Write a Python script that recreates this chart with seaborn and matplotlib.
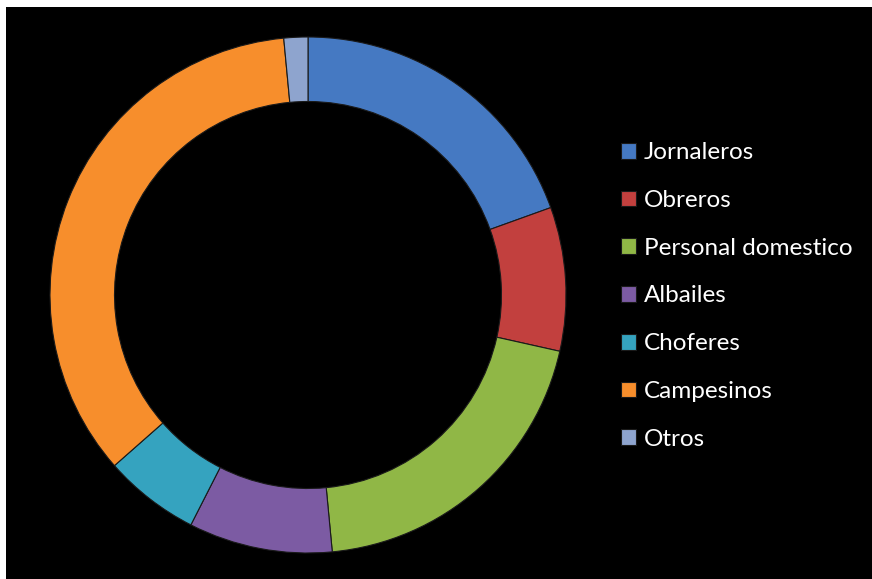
import matplotlib
matplotlib.use('Agg')
import matplotlib.pyplot as plt
import seaborn as sns

categorias = ['Jornaleros', 'Obreros', 'Personal domestico', 'Albailes',
              'Choferes', 'Campesinos', 'Otros']
valores = [19.5, 9.0, 20.0, 9.0, 6.0, 35.0, 1.5]
colores = ['#4579C2', '#C2403E', '#90B746', '#7C5BA3', '#35A3BF', '#F78E2C', '#8EA4CE']

sns.set_theme(style='white')
plt.rcParams['font.family'] = ['Lato', 'DejaVu Sans']

W, H = 872, 579
fig = plt.figure(figsize=(W / 100, H / 100), dpi=100, facecolor='white')

# black background panel (white margin at top/left)
bg = fig.add_axes([6 / W, 0, 1 - 6 / W, 1 - 7 / H])
bg.set_facecolor('black')
bg.set_xticks([])
bg.set_yticks([])
for s in bg.spines.values():
    s.set_visible(False)

# donut
cx, cy, r = 308, 295, 258
ax = fig.add_axes([(cx - r) / W, (H - cy - r) / H, 2 * r / W, 2 * r / H])
ax.set_facecolor('none')
wedges, _ = ax.pie(valores, colors=colores, startangle=90, counterclock=False,
                   radius=1, wedgeprops=dict(width=0.25, edgecolor='#1a1a1a', linewidth=0.8))
ax.set_xlim(-1, 1)
ax.set_ylim(-1, 1)
ax.set_aspect('equal')
ax.axis('off')

leg = fig.legend(wedges, categorias, loc='center left',
                 bbox_to_anchor=(599 / W, 1 - 296 / H),
                 frameon=False, fontsize=17.5, labelcolor='white',
                 handlelength=0.62, handleheight=0.62, handletextpad=0.33,
                 labelspacing=1.1)

fig.savefig('out.png', dpi=100, facecolor='white')
